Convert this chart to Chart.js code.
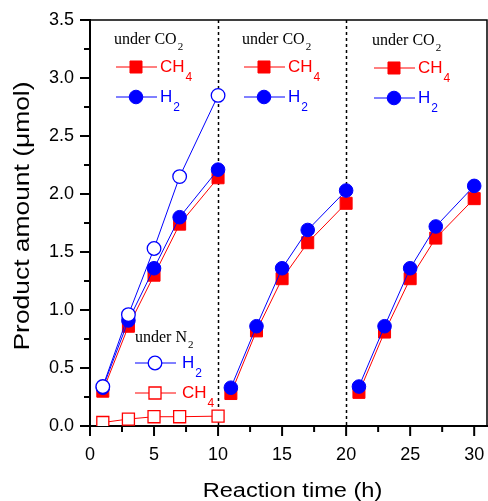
<!DOCTYPE html>
<html>
<head>
<meta charset="utf-8">
<script src="https://cdn.jsdelivr.net/npm/chart.js@4/dist/chart.umd.min.js"></script>
<style>
  html, body { margin: 0; padding: 0; background: #fff; }
  #wrap { width: 488px; height: 501px; }
</style>
</head>
<body>
<div id="wrap"><canvas id="c" width="488" height="501"></canvas></div>
<script>
// reaction time (h) for each cycle under CO2
const timeCycle1 = [1, 3, 5, 7, 10];
const timeCycle2 = [11, 13, 15, 17, 20];
const timeCycle3 = [21, 23, 25, 27, 30];
// product amounts (umol) under CO2
const ch4Cycle1 = [0.30, 0.86, 1.30, 1.74, 2.14];
const ch4Cycle2 = [0.28, 0.82, 1.27, 1.58, 1.92];
const ch4Cycle3 = [0.29, 0.81, 1.27, 1.62, 1.96];
const h2Cycle1 = [0.33, 0.91, 1.36, 1.80, 2.21];
const h2Cycle2 = [0.33, 0.86, 1.36, 1.69, 2.03];
const h2Cycle3 = [0.34, 0.86, 1.36, 1.72, 2.07];
// under N2
const timeN2 = [1, 3, 5, 7, 10];
const h2N2 = [0.34, 0.96, 1.53, 2.15, 2.85];
const ch4N2 = [0.03, 0.06, 0.08, 0.08, 0.085];
// cycle boundaries (h)
const cycleBreaks = [10, 20];
const xTicks = [0, 5, 10, 15, 20, 25, 30];
const yTicks = [0, 0.5, 1.0, 1.5, 2.0, 2.5, 3.0, 3.5];

const RED = '#ff0000';
const BLUE = '#0000ff';
const SANS = 'Arial, "Liberation Sans", sans-serif';

const pts = (xs, ys) => xs.map((x, i) => ({x, y: ys[i]}));

function series(xs, ys, color, style, open, order) {
  return {
    data: pts(xs, ys),
    borderColor: color,
    borderWidth: 1,
    pointStyle: style,
    pointRadius: style === 'rect' ? 8.5 : 6.8,
    pointBorderWidth: open ? 1.3 : 1,
    pointBorderColor: color,
    pointBackgroundColor: open ? '#fff' : color,
    order: order,
  };
}

const datasets = [
  series(timeN2, h2N2, BLUE, 'circle', true, 0),
  series(timeCycle1, h2Cycle1, BLUE, 'circle', false, 1),
  series(timeCycle2, h2Cycle2, BLUE, 'circle', false, 1),
  series(timeCycle3, h2Cycle3, BLUE, 'circle', false, 1),
  series(timeCycle1, ch4Cycle1, RED, 'rect', false, 2),
  series(timeCycle2, ch4Cycle2, RED, 'rect', false, 2),
  series(timeCycle3, ch4Cycle3, RED, 'rect', false, 2),
  series(timeN2, ch4N2, RED, 'rect', true, 3),
];

function marker(ctx, x, y, style, color, open) {
  ctx.save();
  ctx.fillStyle = open ? '#fff' : color;
  ctx.strokeStyle = color;
  ctx.lineWidth = open ? 1.3 : 1;
  ctx.beginPath();
  if (style === 'rect') {
    const s = 8.5 * Math.SQRT1_2;
    ctx.rect(x - s, y - s, 2 * s, 2 * s);
  } else {
    ctx.arc(x, y, 6.8, 0, Math.PI * 2);
  }
  ctx.fill();
  ctx.stroke();
  ctx.restore();
}

function subText(ctx, x, y, base, sub, font, subFont, color, drop) {
  ctx.fillStyle = color;
  ctx.font = font;
  ctx.textBaseline = 'middle';
  ctx.textAlign = 'left';
  ctx.fillText(base, x, y);
  const w = ctx.measureText(base).width;
  ctx.font = subFont;
  ctx.fillText(sub, x + w + 1, y + drop);
}

function legendRow(ctx, x, y, style, color, open, base, sub, gap) {
  ctx.save();
  ctx.strokeStyle = color;
  ctx.lineWidth = 1;
  ctx.beginPath();
  ctx.moveTo(x, y);
  ctx.lineTo(x + 41, y);
  ctx.stroke();
  marker(ctx, x + 20, y, style, color, open);
  subText(ctx, x + 41 + gap, y, base, sub, '17px ' + SANS, '12px ' + SANS, color, 11);
  ctx.restore();
}

// text drawn a little wider than tall, like the original figure
function stretchedText(ctx, text, x, y, angle, font, sx) {
  ctx.save();
  ctx.translate(x, y);
  ctx.rotate(angle);
  ctx.scale(sx, 1);
  ctx.font = font;
  ctx.fillStyle = '#000';
  ctx.textAlign = 'center';
  ctx.textBaseline = 'alphabetic';
  ctx.fillText(text, 0, 0);
  ctx.restore();
}

const decor = {
  id: 'decor',
  beforeDatasetsDraw(chart) {
    const {ctx, chartArea: a, scales: {x}} = chart;
    ctx.save();
    ctx.strokeStyle = '#000';
    ctx.lineWidth = 1.5;
    ctx.setLineDash([3, 3]);
    cycleBreaks.forEach(v => {
      const px = Math.round(x.getPixelForValue(v)) + 0.5;
      ctx.beginPath();
      ctx.moveTo(px, a.top);
      ctx.lineTo(px, a.bottom);
      ctx.stroke();
    });
    ctx.restore();
  },
  afterDraw(chart) {
    const {ctx, chartArea: a, scales: {x, y}} = chart;
    ctx.save();
    ctx.strokeStyle = '#000';
    // frame top/right
    ctx.lineWidth = 1.5;
    ctx.beginPath();
    ctx.moveTo(a.left, a.top);
    ctx.lineTo(a.right, a.top);
    ctx.lineTo(a.right, a.bottom);
    ctx.stroke();
    // ticks, major and minor
    ctx.lineWidth = 2;
    for (let v = 0; v <= 3.5 + 1e-9; v += 0.25) {
      const py = y.getPixelForValue(v);
      const len = Math.abs(v * 2 - Math.round(v * 2)) < 1e-6 ? 10 : 6;
      ctx.beginPath();
      ctx.moveTo(a.left, py);
      ctx.lineTo(a.left - len, py);
      ctx.stroke();
    }
    for (let v = 0; v <= 30 + 1e-9; v += 2.5) {
      const px = x.getPixelForValue(v);
      const len = Math.abs(v / 5 - Math.round(v / 5)) < 1e-6 ? 10 : 6;
      ctx.beginPath();
      ctx.moveTo(px, a.bottom);
      ctx.lineTo(px, a.bottom + len);
      ctx.stroke();
    }
    // axis titles
    stretchedText(ctx, 'Reaction time (h)', (a.left + a.right) / 2 + 4, 497, 0, '20px ' + SANS, 1.18);
    stretchedText(ctx, 'Product amount (\u03bcmol)', 29, 216, -Math.PI / 2, '22px ' + SANS, 1.2);
    // legends
    const serif = '16px "Times New Roman", "Liberation Serif", serif';
    const serifSub = '11px "Times New Roman", "Liberation Serif", serif';
    [[114, 40], [242, 40], [372, 41]].forEach(([lx, ly]) => {
      subText(ctx, lx, ly, 'under CO', '2', serif, serifSub, '#000', 7);
      legendRow(ctx, lx + 2, ly + 27, 'rect', RED, false, 'CH', '4', 3);
      legendRow(ctx, lx + 2, ly + 57, 'circle', BLUE, false, 'H', '2', 3);
    });
    subText(ctx, 135, 338, 'under N', '2', serif, serifSub, '#000', 7);
    legendRow(ctx, 135, 363, 'circle', BLUE, true, 'H', '2', 6);
    legendRow(ctx, 135, 393, 'rect', RED, true, 'CH', '4', 6);
    ctx.restore();
  }
};

new Chart(document.getElementById('c'), {
  type: 'line',
  data: {datasets},
  options: {
    responsive: false,
    animation: false,
    layout: {autoPadding: false, padding: {top: 20, right: 1, left: 0, bottom: 0}},
    plugins: {legend: {display: false}, tooltip: {enabled: false}},
    scales: {
      x: {
        type: 'linear',
        min: 0,
        max: 31,
        afterBuildTicks: s => { s.ticks = xTicks.map(v => ({value: v})); },
        afterFit: s => { s.height = 75; s.paddingLeft = 0; s.paddingRight = 0; },
        grid: {display: false},
        border: {display: true, color: '#000', width: 2},
        ticks: {color: '#000', padding: 10, maxRotation: 0, font: {family: SANS, size: 18}},
      },
      y: {
        min: 0,
        max: 3.5,
        afterBuildTicks: s => { s.ticks = yTicks.map(v => ({value: v})); },
        afterFit: s => { s.width = 90; s.paddingTop = 0; s.paddingBottom = 0; },
        grid: {display: false},
        border: {display: true, color: '#000', width: 2},
        ticks: {color: '#000', padding: 8, callback: v => v.toFixed(1),
                font: {family: SANS, size: 18}},
      },
    },
  },
  plugins: [decor],
});
</script>
</body>
</html>
